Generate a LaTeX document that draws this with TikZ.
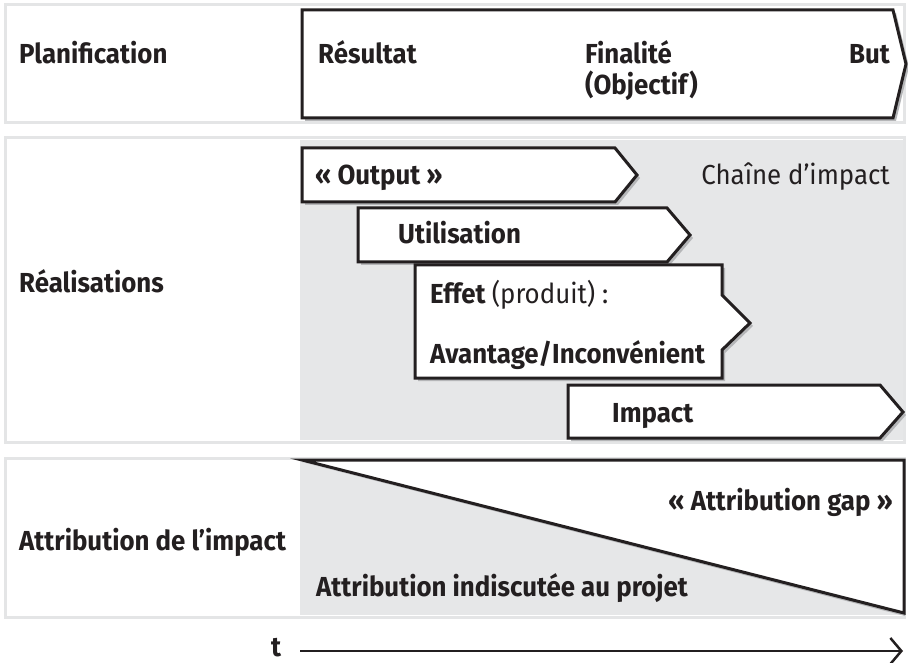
\documentclass[tikz,border=0pt]{standalone}
\usepackage{fontspec}
\setmainfont{Fira Sans}[FakeStretch=0.94]
\usetikzlibrary{arrows.meta}
\definecolor{panelgray}{HTML}{E6E7E8}
\definecolor{framegray}{HTML}{E4E5E6}
\definecolor{shadowgray}{HTML}{B5B6B8}
\definecolor{inkblack}{HTML}{231F20}
\begin{document}
\begin{tikzpicture}[x=1pt,y=-1pt,
  frame/.style={draw=framegray, line width=3pt},
  chev/.style={draw=inkblack, line width=3pt, fill=white, line join=miter},
  shad/.style={fill=shadowgray},
  lbl/.style={font=\fontsize{27.5}{32}\selectfont\bfseries, anchor=base west, inner sep=0pt, text=inkblack},
  plain/.style={font=\fontsize{27.5}{32}\selectfont, anchor=base west, inner sep=0pt, text=inkblack}]
\useasboundingbox (0,0) rectangle (908,663);

% ---------- top panel
\draw[frame, fill=white] (5,5) rectangle (904,123);
\fill[shad] (305,13) -- (896,13) -- (909,67) -- (896,121) -- (305,121) -- cycle;
\draw[chev] (302,10) -- (893,10) -- (906,64) -- (893,118) -- (302,118) -- cycle;
\node[lbl] (plan) at (19,64) {Planification};
\node[lbl] (res) at (318,64) {Résultat};
\node[lbl] (fin) at (585,64) {Finalité};
\node[lbl] (obj) at (585,95) {(Objectif)};
\node[lbl, anchor=base east] (but) at (890,64) {But};

% ---------- middle panel
\draw[frame, fill=white] (5,138) rectangle (904,442);
\fill[panelgray] (300,140) rectangle (903,440);
\node[lbl] (real) at (19,292) {Réalisations};

\fill[shad] (305,151) -- (618,151) -- (640,178) -- (618,205) -- (305,205) -- cycle;
\draw[chev] (302,148) -- (615,148) -- (637,175) -- (615,202) -- (302,202) -- cycle;
\node[lbl] (out) at (315,185) {« Output »};
\node[plain, anchor=base east] (chaine) at (890,185) {Chaîne d’impact};

\fill[shad] (361,211) -- (670,211) -- (693,238) -- (670,265) -- (361,265) -- cycle;
\draw[chev] (358,208) -- (667,208) -- (690,235) -- (667,262) -- (358,262) -- cycle;
\node[lbl] (util) at (398,244) {Utilisation};

\fill[shad] (418,268) -- (725,268) -- (725,298) -- (753,326) -- (725,353) -- (725,381) -- (418,381) -- cycle;
\draw[chev] (415,265) -- (722,265) -- (722,295) -- (750,323) -- (722,350) -- (722,378) -- (415,378) -- cycle;
\node[lbl] (effet) at (430,303) {Effet \mdseries(produit) :};
\node[lbl] (avant) at (430,363) {Avantage/Inconvénient};

\fill[shad] (571,388) -- (883,388) -- (906,415) -- (883,441) -- (571,441) -- cycle;
\draw[chev] (568,385) -- (880,385) -- (903,412) -- (880,438) -- (568,438) -- cycle;
\node[lbl] (imp) at (612,422) {Impact};

% ---------- bottom panel
\draw[frame, fill=white] (5,458) rectangle (904,617);
\fill[panelgray] (300,460) rectangle (903,615);
\fill[shad] (302,462) -- (905,616) -- (905,612) -- cycle;
\draw[chev] (302,460) -- (904,460) -- (904,613) -- cycle;
\node[lbl] (attr) at (19,550) {Attribution de l’impact};
\node[lbl, anchor=base east] (gap) at (893,510) {« Attribution gap »};
\node[lbl] (indis) at (316,596) {Attribution indiscutée au projet};

% ---------- time axis
\node[lbl] (t) at (271,656) {t};
\coordinate (tstart) at (300,651);
\coordinate (tend) at (903,651);
\draw[inkblack, line width=2.8pt, -{Straight Barb[length=11pt,width=26pt,line width=2.5pt]}] (tstart) -- (tend);
\end{tikzpicture}
\end{document}
